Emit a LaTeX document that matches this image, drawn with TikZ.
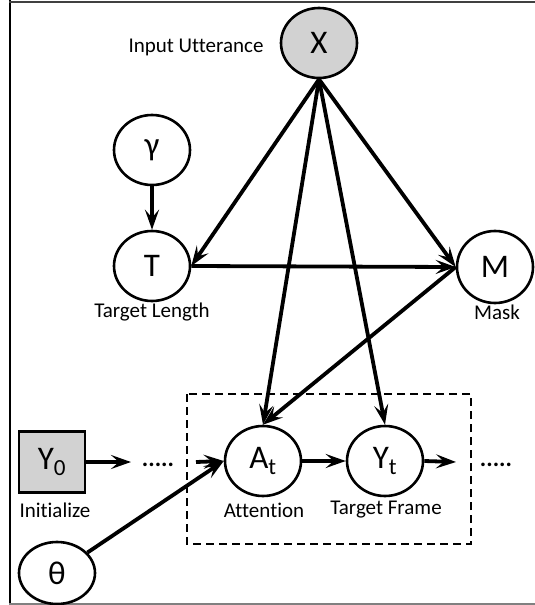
\documentclass[tikz,border=0pt]{standalone}
\usepackage{fontspec}
\setmainfont{Carlito}[Ligatures=CommonOff]
\usetikzlibrary{arrows.meta,shapes.geometric}
\tikzset{
  var/.style={draw, ellipse, line width=2.6pt, minimum width=76pt, minimum height=70pt, inner sep=0pt, font=\fontsize{33}{36}\selectfont},
  obs/.style={var, fill=gray!35},
  lab/.style={inner sep=0pt, font=\fontsize{21}{25}\selectfont},
  dots/.style={inner sep=0pt, anchor=base, font=\fontsize{24}{28}\selectfont\bfseries},
  edge/.style={line width=3.8pt, -{Stealth[length=20pt,width=14pt,inset=8pt]}},
}
\begin{document}
\begin{tikzpicture}[x=1pt,y=-1pt]
\useasboundingbox (0,0) rectangle (535,605);
% frame
\draw[line width=2.5pt] (10,0) -- (10,605);
\draw[line width=2pt, black!75] (9,1.5) -- (535,1.5);
\draw[line width=2pt, gray] (9,603.5) -- (535,603.5);
% plate
\draw[line width=2.4pt, dash pattern=on 8pt off 5pt] (187,394) rectangle (471,544);
% variables
\node[obs] (X) at (319,43) {X};
\node[var] (gamma) at (152,150) {γ};
\node[var] (T) at (152,266) {T};
\node[var, minimum height=72pt] (M) at (495,267) {M};
\node[draw, fill=gray!35, line width=2.6pt, minimum width=66pt, minimum height=61pt, inner sep=0pt, font=\fontsize{33}{36}\selectfont] (Y0) at (52,462) {Y\textsubscript{0}};
\node[var] (At) at (263,461) {A\textsubscript{t}};
\node[var] (Yt) at (385,461) {Y\textsubscript{t}};
\node[var, minimum height=62pt] (theta) at (57,573) {θ};
% labels
\node[lab] (inputlab) at (196,47) {Input Utterance};
\node[lab] (tlab) at (152,312) {Target Length};
\node[lab] (mlab) at (497,312) {Mask};
\node[lab] (y0lab) at (55,510) {Initialize};
\node[lab] (atlab) at (264,510) {Attention};
\node[lab] (ytlab) at (386,510) {Target Frame};
\node[dots] (dotsA) at (158,466) {.....};
\node[dots] (dotsB) at (496,466) {.....};
\coordinate (y0end) at (131,462);
\coordinate (atstart) at (196,462);
\coordinate (ytend) at (456,462);
% edges
\draw[edge] (X.south) -- (T.east);
\draw[edge] (X.south) -- (M.west);
\draw[edge] (X.south) -- (At.north);
\draw[edge] (X.south) -- (Yt.north);
\draw[edge] (gamma) -- (T);
\draw[edge] (T.east) -- (M.west);
\draw[edge] (M.west) -- (At.north);
\draw[edge] (Y0.east) -- (y0end);
\draw[edge] (atstart) -- (At.west);
\draw[edge] (theta) -- (At.west);
\draw[edge] (At) -- (Yt);
\draw[edge] (Yt.east) -- (ytend);
\end{tikzpicture}
\end{document}
